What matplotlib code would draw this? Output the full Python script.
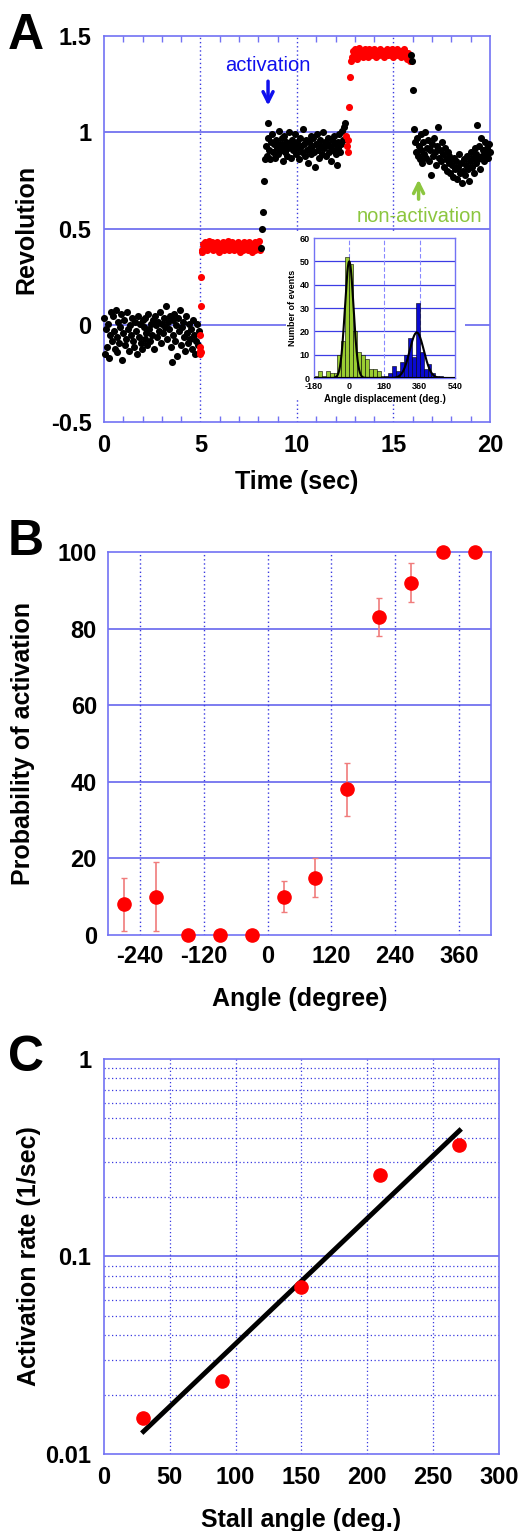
import numpy as np
import matplotlib
matplotlib.use("Agg")
import matplotlib.pyplot as plt
from matplotlib.patches import Rectangle
from matplotlib.ticker import MultipleLocator, NullLocator

plt.rcParams['font.family'] = ['Liberation Sans', 'DejaVu Sans']
plt.rcParams['font.weight'] = 'bold'
plt.rcParams['axes.labelweight'] = 'bold'

# ---------------- panel A: single-molecule rotation trace ----------------
frame_dt = 0.05

# black: freely rotating, 0 - 4.9 s
trace0_start = 0.0
trace0_y = [0.04, -0.15, -0.02, -0.11, 0.01, -0.17, -0.05, 0.07, -0.08, 0.05,
            -0.03, -0.12, 0.08, -0.06, -0.14, 0.02, -0.09, -0.01, 0.06, -0.18,
            -0.04, 0.03, -0.10, -0.07, 0.07, -0.02, -0.13, 0.00, -0.05, 0.04,
            -0.08, -0.11, 0.02, -0.03, -0.15, 0.05, -0.06, 0.01, -0.09, -0.12,
            0.03, -0.01, -0.07, 0.04, -0.04, -0.10, 0.06, -0.02, -0.08, 0.01,
            -0.05, 0.03, -0.12, 0.05, 0.00, -0.06, 0.02, -0.03, 0.07, -0.09,
            0.01, -0.04, 0.04, -0.01, 0.10, -0.07, 0.02, -0.02, 0.05, -0.11,
            -0.19, 0.03, -0.05, 0.06, -0.08, 0.00, -0.16, 0.04, -0.03, 0.08,
            -0.10, -0.01, 0.02, -0.06, -0.13, 0.05, -0.04, -0.09, 0.01, -0.07,
            -0.02, -0.12, 0.03, -0.05, -0.15, -0.08, 0.01, -0.10, -0.03]

# red: magnetic tweezers stall, 5.1 - 8.1 s
stall0_start = 5.10
stall0_y = [0.39, 0.42, 0.40, 0.43, 0.41, 0.39, 0.42, 0.44, 0.40, 0.41,
            0.43, 0.39, 0.41, 0.42, 0.40, 0.43, 0.41, 0.38, 0.42, 0.40,
            0.41, 0.43, 0.39, 0.42, 0.41, 0.40, 0.44, 0.41, 0.39, 0.42,
            0.40, 0.43, 0.41, 0.39, 0.42, 0.40, 0.41, 0.43, 0.40, 0.38,
            0.42, 0.41, 0.39, 0.43, 0.40, 0.42, 0.41, 0.39, 0.43, 0.40,
            0.42, 0.38, 0.41, 0.40, 0.43, 0.39, 0.42, 0.40, 0.41, 0.44, 0.39]

# black: released after activation, 8.4 - 12.5 s
trace1_start = 8.40
trace1_y = [0.93, 0.88, 0.97, 0.91, 0.86, 0.95, 0.99, 0.90, 0.94, 0.87,
            0.96, 0.92, 0.89, 1.01, 0.94, 0.91, 0.97, 0.85, 0.93, 0.98,
            0.90, 0.95, 0.88, 0.92, 1.00, 0.94, 0.87, 0.96, 0.91, 0.93,
            0.99, 0.89, 0.95, 0.92, 0.86, 0.97, 0.93, 0.90, 1.02, 0.94,
            0.88, 0.96, 0.91, 0.84, 0.95, 0.92, 0.98, 0.89, 0.93, 0.97,
            0.90, 0.82, 0.94, 0.99, 0.91, 0.87, 0.96, 0.93, 0.89, 1.00,
            0.92, 0.95, 0.88, 0.94, 0.97, 0.90, 0.93, 0.85, 0.96, 0.91,
            0.98, 0.94, 0.89, 0.83, 0.95, 0.92, 0.99, 0.90, 0.94, 1.01,
            0.96, 1.03, 1.05]

# red: second stall, 12.85 - 15.85 s
stall1_start = 12.85
stall1_y = [1.39, 1.42, 1.40, 1.43, 1.41, 1.38, 1.42, 1.44, 1.40, 1.41,
            1.42, 1.39, 1.41, 1.43, 1.40, 1.42, 1.41, 1.39, 1.43, 1.40,
            1.41, 1.42, 1.40, 1.43, 1.41, 1.39, 1.42, 1.41, 1.40, 1.43,
            1.41, 1.42, 1.40, 1.39, 1.42, 1.41, 1.43, 1.40, 1.41, 1.42,
            1.40, 1.43, 1.41, 1.39, 1.42, 1.40, 1.41, 1.43, 1.40, 1.42,
            1.41, 1.39, 1.42, 1.40, 1.43, 1.41, 1.40, 1.38, 1.41, 1.39, 1.37]

# black: released without activation (slips back), 16.05 - 20 s
trace2_start = 16.05
trace2_y = [1.02, 0.95, 0.90, 0.97, 0.88, 0.93, 0.86, 0.99, 0.91, 0.84,
            0.95, 0.89, 1.00, 0.87, 0.92, 0.96, 0.85, 0.91, 0.78, 0.94,
            0.88, 0.97, 0.90, 0.83, 0.93, 1.03, 0.87, 0.91, 0.85, 0.95,
            0.89, 0.82, 0.92, 0.86, 0.80, 0.90, 0.84, 0.88, 0.79, 0.86,
            0.83, 0.77, 0.87, 0.81, 0.85, 0.76, 0.82, 0.89, 0.79, 0.84,
            0.74, 0.80, 0.86, 0.78, 0.83, 0.88, 0.81, 0.75, 0.85, 0.90,
            0.82, 0.87, 0.79, 0.92, 0.84, 0.89, 1.04, 0.86, 0.93, 0.81,
            0.97, 0.88, 0.91, 0.85, 0.95, 0.89, 0.92, 0.87, 0.94, 0.90]

# transitions between the segments
jump_red_t = [4.95, 4.98, 5.00, 5.00, 5.02, 5.03, 5.05, 5.08,
              12.55, 12.60, 12.62, 12.65, 12.70, 12.75, 12.80]
jump_red_y = [-0.05, -0.11, -0.13, -0.15, -0.14, 0.10, 0.25, 0.38,
              0.98, 0.93, 0.90, 0.96, 1.13, 1.29, 1.37]
jump_black_t = [8.15, 8.20, 8.25, 8.30, 8.35, 8.50, 15.90, 15.95, 16.00]
jump_black_y = [0.40, 0.50, 0.59, 0.75, 0.86, 1.05, 1.40, 1.37, 1.22]

# inset histogram of angle displacement after release
hist_edges_green = [-180, -160, -140, -120, -100, -80, -60, -40, -20,
                    0, 20, 40, 60, 80, 100, 120, 140, 160]
hist_counts_green = [1, 3, 1, 3, 2, 2, 10, 16, 52, 49, 20, 11, 10, 8, 4, 4, 3, 1]
hist_edges_blue = [180, 200, 220, 240, 260, 280, 300, 320, 340,
                   360, 380, 400, 420, 440, 460]
hist_counts_blue = [1, 2, 5, 3, 7, 10, 17, 9, 32, 11, 4, 6, 2, 1, 1]
fit_green = dict(amp=50, mean=0, sd=22)
fit_blue = dict(amp=19.5, mean=345, sd=36)

# ---------------- panel B ----------------
angle_b = [-270, -210, -150, -90, -30, 30, 90, 150, 210, 270, 330, 390]
prob_b = [8, 10, 0, 0, 0, 10, 15, 38, 83, 92, 100, 100]
err_b = [7, 9, 0, 0, 0, 4, 5, 7, 5, 5, 0, 0]

# ---------------- panel C ----------------
stall_c = [30, 90, 150, 210, 270]
rate_c = [0.0153, 0.0235, 0.070, 0.259, 0.367]
fit_c_x = [30, 270]
fit_c_y = [0.013, 0.434]

spine_col = '#7272f4'
grid_col = '#5858ec'
dot_col = '#3a3ae0'
label_fs = 18
tick_fs = 17


def frame(ax):
    for s in ax.spines.values():
        s.set_color(spine_col)
        s.set_linewidth(1.2)
    ax.tick_params(which='major', length=0, labelsize=tick_fs)


fig = plt.figure(figsize=(5.22, 15.31), dpi=100)

# ---- A ----
axA = fig.add_axes([0.1992, 0.7244, 0.7395, 0.2521])
frame(axA)
axA.set_xlim(0, 20)
axA.set_ylim(-0.5, 1.5)
axA.set_xticks([0, 5, 10, 15, 20])
axA.set_xticklabels(['0', '5', '10', '15', '20'])
axA.set_yticks([-0.5, 0, 0.5, 1, 1.5])
axA.set_yticklabels(['-0.5', '0', '0.5', '1', '1.5'])
axA.xaxis.set_minor_locator(MultipleLocator(1))
axA.tick_params(which='minor', direction='in', length=4, top=True,
                bottom=True, color=spine_col, width=1)
axA.tick_params(axis='x', pad=9)
axA.tick_params(axis='y', pad=9)
for yv in [0, 0.5, 1]:
    axA.axhline(yv, color=grid_col, lw=1.1, zorder=1)
for xv in [5, 10, 15]:
    axA.axvline(xv, color=dot_col, lw=1.0, ls=(0, (1, 2)), zorder=1)
# white panel behind the inset and its labels
axA.add_patch(Rectangle((9.43, -0.386), 9.27, 0.87, fc='white', ec='none', zorder=1.6))


def times(start, n):
    return start + frame_dt * np.arange(n)


dot_s = 26
for start, ys, col in [(trace0_start, trace0_y, 'black'),
                       (stall0_start, stall0_y, 'red'),
                       (trace1_start, trace1_y, 'black'),
                       (stall1_start, stall1_y, 'red'),
                       (trace2_start, trace2_y, 'black')]:
    axA.scatter(times(start, len(ys)), ys, s=dot_s, c=col, lw=0, zorder=3, clip_on=False)
axA.scatter(jump_red_t, jump_red_y, s=dot_s, c='red', lw=0, zorder=3)
axA.scatter(jump_black_t, jump_black_y, s=dot_s, c='black', lw=0, zorder=3)

axA.annotate('', xy=(8.5, 1.125), xytext=(8.5, 1.28),
             arrowprops=dict(arrowstyle='->', color='#1010ee', lw=2.5, mutation_scale=18))
axA.text(8.5, 1.345, 'activation', color='#1010ee', fontsize=14.5,
         fontweight='normal', ha='center', va='center')
axA.annotate('', xy=(16.3, 0.77), xytext=(16.3, 0.64),
             arrowprops=dict(arrowstyle='->', color='#8cc63f', lw=2.5, mutation_scale=18))
axA.text(16.35, 0.567, 'non-activation', color='#8cc63f', fontsize=14.5,
         fontweight='normal', ha='center', va='center')

axA.set_xlabel('Time (sec)', fontsize=label_fs)
axA.xaxis.set_label_coords(0.5, -0.124)
axA.set_ylabel('Revolution', fontsize=label_fs)
axA.yaxis.set_label_coords(-0.171, 0.5)

# ---- inset ----
axI = fig.add_axes([0.6015, 0.7531, 0.2701, 0.0914])
for s in axI.spines.values():
    s.set_color(spine_col)
    s.set_linewidth(1.0)
axI.set_xlim(-180, 540)
axI.set_ylim(0, 60)
axI.set_xticks([-180, 0, 180, 360, 540])
axI.set_xticklabels(['-180', '0', '180', '360', '540'])
axI.set_yticks([0, 10, 20, 30, 40, 50, 60])
axI.tick_params(length=0, labelsize=6.5)
axI.tick_params(axis='x', pad=3)
axI.tick_params(axis='y', pad=3)
for yv in [10, 20, 30, 40, 50]:
    axI.axhline(yv, color='#3c3ce4', lw=0.9, zorder=0.5)
for xv in [0, 180, 360]:
    axI.axvline(xv, color='#8888ff', lw=0.8, ls=(0, (4, 2)), zorder=0.5)
axI.bar(hist_edges_green, hist_counts_green, width=20, align='edge',
        color='#9acd32', edgecolor='black', lw=0.4, zorder=2)
axI.bar(hist_edges_blue, hist_counts_blue, width=20, align='edge',
        color='#0a0ad0', edgecolor='black', lw=0.4, zorder=2)
xs = np.linspace(-180, 540, 500)
for p in (fit_green, fit_blue):
    axI.plot(xs, p['amp'] * np.exp(-0.5 * ((xs - p['mean']) / p['sd']) ** 2),
             color='black', lw=1.5, zorder=3)
axI.set_xlabel('Angle displacement (deg.)', fontsize=7, labelpad=2)
axI.set_ylabel('Number of events', fontsize=6.5, labelpad=2)

# ---- B ----
axB = fig.add_axes([0.2069, 0.3893, 0.7337, 0.2502])
frame(axB)
axB.set_xlim(-300, 420)
axB.set_ylim(0, 100)
axB.set_xticks([-240, -120, 0, 120, 240, 360])
axB.set_xticklabels(['-240', '-120', '0', '120', '240', '360'])
axB.set_yticks([0, 20, 40, 60, 80, 100])
axB.tick_params(axis='x', pad=7)
axB.tick_params(axis='y', pad=8)
for yv in [20, 40, 60, 80]:
    axB.axhline(yv, color=grid_col, lw=1.1, zorder=1)
for xv in [-240, -120, 0, 120, 240, 360]:
    axB.axvline(xv, color=dot_col, lw=1.0, ls=(0, (1, 2)), zorder=1)
axB.errorbar(angle_b, prob_b, yerr=err_b, fmt='o', color='red', ms=9.5,
             ecolor='#f07c7c', elinewidth=1.2, capsize=2.5, capthick=1.0,
             zorder=3, clip_on=False)
axB.set_xlabel('Angle (degree)', fontsize=label_fs)
axB.xaxis.set_label_coords(0.5, -0.136)
axB.set_ylabel('Probability of activation', fontsize=label_fs)
axB.yaxis.set_label_coords(-0.19, 0.5)

# ---- C ----
axC = fig.add_axes([0.1992, 0.0503, 0.7567, 0.2580])
frame(axC)
axC.set_yscale('log')
axC.set_xlim(0, 300)
axC.set_ylim(0.01, 1)
axC.set_xticks([0, 50, 100, 150, 200, 250, 300])
axC.set_yticks([0.01, 0.1, 1])
axC.set_yticklabels(['0.01', '0.1', '1'])
axC.yaxis.set_minor_locator(NullLocator())
axC.tick_params(axis='x', pad=9)
axC.tick_params(axis='y', pad=9)
axC.axhline(0.1, color=grid_col, lw=1.1, zorder=1)
for dec in [0.01, 0.1]:
    for m in range(2, 10):
        axC.axhline(dec * m, color=dot_col, lw=0.9, ls=(0, (1, 2)), zorder=1)
for xv in [50, 100, 150, 200, 250]:
    axC.axvline(xv, color=dot_col, lw=0.9, ls=(0, (1, 2)), zorder=1)
axC.plot(fit_c_x, fit_c_y, color='black', lw=3.5, zorder=2)
axC.plot(stall_c, rate_c, 'o', color='red', ms=9.5, zorder=3)
axC.set_xlabel('Stall angle (deg.)', fontsize=label_fs)
axC.xaxis.set_label_coords(0.5, -0.137)
axC.set_ylabel('Activation rate (1/sec)', fontsize=label_fs)
axC.yaxis.set_label_coords(-0.16, 0.5)

# panel letters
for lab, ypix in [('A', 36), ('B', 542), ('C', 1058)]:
    fig.text(8 / 522, 1 - ypix / 1531, lab, fontsize=36, fontweight='bold',
             ha='left', va='center')

fig.savefig('out.png', dpi=100)
